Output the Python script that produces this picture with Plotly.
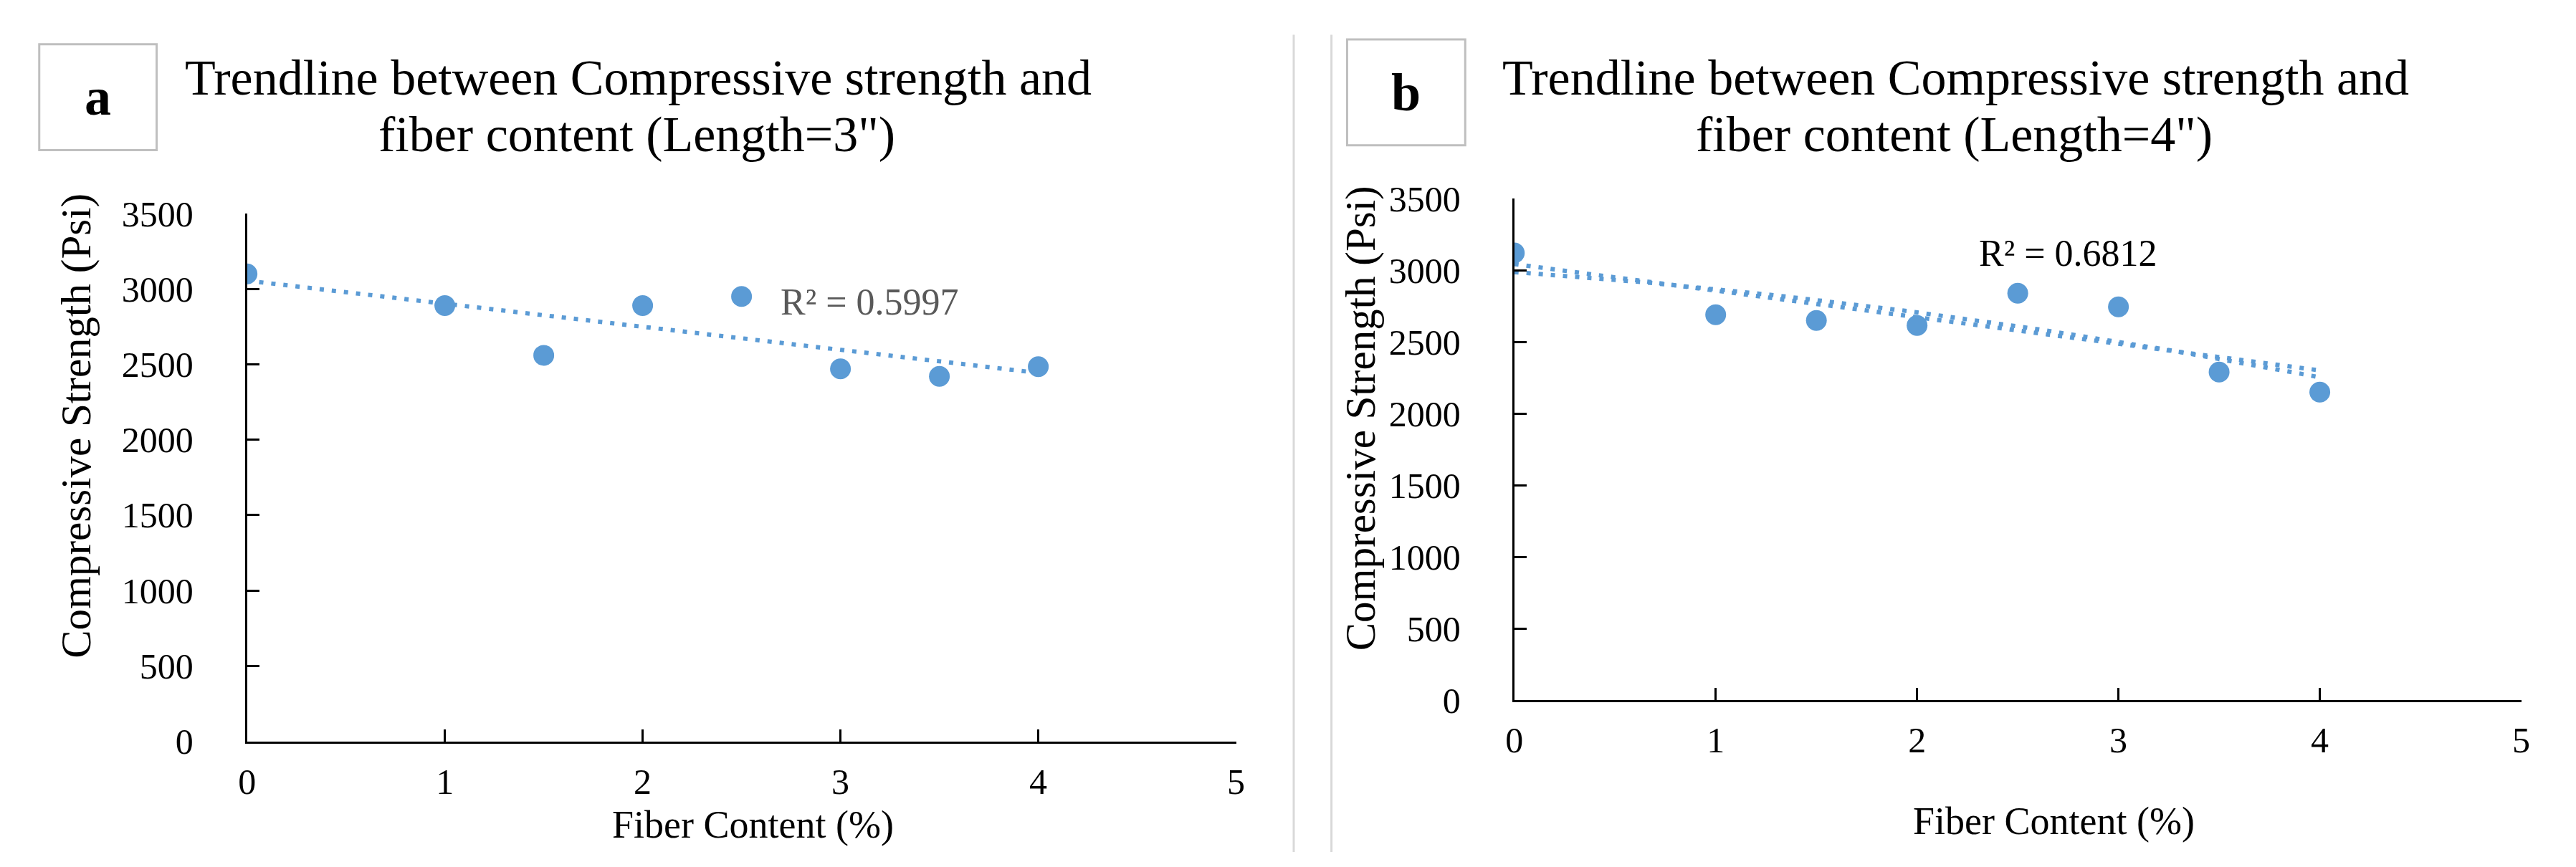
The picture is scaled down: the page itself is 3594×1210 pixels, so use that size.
import numpy as np
import plotly.graph_objects as go

W, H = 3594, 1210

# ---- data ----
fiber_content = [0, 1, 1.5, 2, 2.5, 3, 3.5, 4]
strength_3in = [3100, 2890, 2560, 2890, 2950, 2470, 2420, 2485]
strength_4in = [3120, 2690, 2650, 2615, 2840, 2745, 2290, 2150]
x_ticks = [0, 1, 2, 3, 4, 5]
y_ticks = [0, 500, 1000, 1500, 2000, 2500, 3000, 3500]
title_a_lines = ["Trendline between Compressive strength and", "fiber content (Length=3\")"]
title_b_lines = ["Trendline between Compressive strength and", "fiber content (Length=4\")"]
r2_a = "R² = 0.5997"
r2_b = "R² = 0.6812"
x_title = "Fiber Content (%)"
y_title = "Compressive Strength (Psi)"

BLUE = "#5B9BD5"
FONT = "Liberation Serif"


def px(x):
    return x / W


def py(y):
    return 1 - y / H


fig = go.Figure()

xs = np.linspace(min(fiber_content), max(fiber_content), 80)

# panel a
fit_a = np.polyfit(fiber_content, strength_3in, 1)
fig.add_trace(go.Scatter(x=xs, y=np.polyval(fit_a, xs), mode="lines",
                         line=dict(color=BLUE, width=6, dash="6px,11px"),
                         xaxis="x", yaxis="y", showlegend=False))
fig.add_trace(go.Scatter(x=fiber_content, y=strength_3in, mode="markers",
                         marker=dict(color=BLUE, size=29),
                         xaxis="x", yaxis="y", showlegend=False))

# panel b
fit_b1 = np.polyfit(fiber_content, strength_4in, 1)
fit_b2 = np.polyfit(fiber_content, strength_4in, 2)
fig.add_trace(go.Scatter(x=xs, y=np.polyval(fit_b1, xs), mode="lines",
                         line=dict(color=BLUE, width=6, dash="6px,11px"),
                         xaxis="x2", yaxis="y2", showlegend=False))
fig.add_trace(go.Scatter(x=xs, y=np.polyval(fit_b2, xs), mode="lines",
                         line=dict(color=BLUE, width=6, dash="6px,11px"),
                         xaxis="x2", yaxis="y2", showlegend=False))
fig.add_trace(go.Scatter(x=fiber_content, y=strength_4in, mode="markers",
                         marker=dict(color=BLUE, size=29),
                         xaxis="x2", yaxis="y2", showlegend=False))

tickfont = dict(family=FONT, size=50, color="black")
common_x = dict(range=[0, 5], tickvals=x_ticks, showgrid=False, zeroline=False,
                showline=True, linecolor="black", linewidth=3,
                ticks="inside", ticklen=17, tickwidth=3, tickcolor="black",
                tickfont=tickfont, ticklabelstandoff=10)
common_y = dict(range=[0, 3500], tickvals=y_ticks, showgrid=False, zeroline=False,
                showline=True, linecolor="black", linewidth=3,
                ticks="inside", ticklen=17, tickwidth=3, tickcolor="black",
                tickfont=tickfont, ticklabelstandoff=62)

fig.update_layout(
    width=W, height=H,
    margin=dict(l=0, r=0, t=0, b=0),
    paper_bgcolor="white", plot_bgcolor="white",
    xaxis=dict(domain=[px(326), px(1716)], anchor="y", **common_x),
    yaxis=dict(domain=[py(1048), py(275)], anchor="x", **common_y),
    xaxis2=dict(domain=[px(2107), px(3522)], anchor="y2", **common_x),
    yaxis2=dict(domain=[py(988), py(253)], anchor="x2", **common_y),
)

shapes = []
# separator lines
for sx in (1797, 1850):
    shapes.append(dict(type="line", xref="paper", yref="paper",
                       x0=px(sx), x1=px(sx), y0=py(13), y1=py(H),
                       line=dict(color="#D9D9D9", width=3)))
# label boxes
for (x0, y0, x1, y1) in ((34, 27, 199, 182), (1872, 20, 2038, 175)):
    shapes.append(dict(type="rect", xref="paper", yref="paper",
                       x0=px(x0), x1=px(x1), y0=py(y1), y1=py(y0),
                       line=dict(color="#BFBFBF", width=3), fillcolor="white"))
fig.update_layout(shapes=shapes)


def note(text, x, y, size, color="black", angle=0):
    return dict(text=text, x=px(x), y=py(y), xref="paper", yref="paper",
                xanchor="center", yanchor="middle", showarrow=False,
                align="center", textangle=angle,
                font=dict(family=FONT, size=size, color=color))


ann = [
    note("<b>a</b>", 116, 104, 74),
    note("<b>b</b>", 1955, 98, 74),
    note(title_a_lines[0], 876, 76, 70),
    note(title_a_lines[1], 874, 159, 70),
    note(title_b_lines[0], 2727, 76, 70),
    note(title_b_lines[1], 2725, 159, 70),
    note(x_title, 1037, 1170, 54),
    note(x_title, 2865, 1165, 54),
    note(y_title, 86, 586, 59, angle=-90),
    note(y_title, 1891, 575, 59, angle=-90),
    note(r2_a, 1201, 405, 52, color="#595959"),
    note(r2_b, 2885, 333, 52),
]
fig.update_layout(annotations=ann)

fig.write_html("out.html")
